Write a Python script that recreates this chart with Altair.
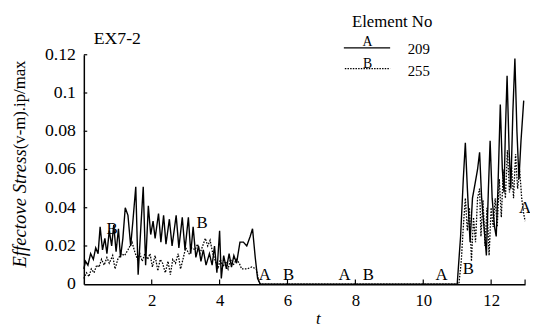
import altair as alt
import pandas as pd

# ---- data ----
a_t = [0.0, 0.05, 0.12, 0.2, 0.28, 0.35, 0.42, 0.48, 0.55, 0.62, 0.68, 0.75, 0.82, 0.88, 0.95,
       1.02, 1.08, 1.15, 1.22, 1.3, 1.38, 1.45, 1.53, 1.6, 1.68, 1.75, 1.82, 1.9, 1.97, 2.04,
       2.1, 2.2, 2.27, 2.35, 2.42, 2.52, 2.6, 2.72, 2.8, 2.9, 2.98, 3.08, 3.15, 3.22, 3.3,
       3.38, 3.45, 3.52, 3.6, 3.7, 3.78, 3.85, 3.92, 4.0, 4.05, 4.12, 4.2, 4.28, 4.35, 4.42,
       4.5, 4.6, 4.7, 4.8, 4.9, 4.97, 5.05, 5.12, 5.2,
       11.0, 11.1, 11.18, 11.24, 11.3, 11.38, 11.45, 11.52, 11.6, 11.66, 11.72, 11.8, 11.86,
       11.92, 11.97, 12.03, 12.1, 12.15, 12.2, 12.27, 12.33, 12.38, 12.42, 12.47, 12.53, 12.58,
       12.64, 12.7, 12.76, 12.82, 12.88, 12.96]
a_v = [0.008, 0.012, 0.010, 0.016, 0.013, 0.019, 0.016, 0.030, 0.018, 0.024, 0.016, 0.028, 0.020, 0.031, 0.017,
       0.029, 0.014, 0.024, 0.040, 0.036, 0.020, 0.034, 0.051, 0.005, 0.030, 0.051, 0.010, 0.041, 0.026, 0.033,
       0.024, 0.037, 0.022, 0.036, 0.021, 0.034, 0.020, 0.036, 0.019, 0.035, 0.018, 0.035, 0.016, 0.030, 0.014,
       0.020, 0.012, 0.018, 0.010, 0.016, 0.010, 0.020, 0.006, 0.028, 0.003, 0.015, 0.008, 0.016, 0.009, 0.015,
       0.011, 0.022, 0.022, 0.020, 0.025, 0.029, 0.014, 0.003, 0.0,
       0.0, 0.025, 0.055, 0.074, 0.050, 0.022, 0.045, 0.052, 0.060, 0.069, 0.045, 0.028, 0.015,
       0.050, 0.075, 0.045, 0.030, 0.025, 0.050, 0.094, 0.060, 0.048, 0.080, 0.109, 0.070, 0.050,
       0.090, 0.118, 0.080, 0.055, 0.075, 0.096]

b_t = [0.0, 0.08, 0.15, 0.22, 0.3, 0.38, 0.45, 0.52, 0.6, 0.68, 0.75, 0.85, 0.92, 1.0, 1.1,
       1.2, 1.3, 1.42, 1.5, 1.58, 1.65, 1.72, 1.8, 1.88, 1.95, 2.02, 2.1, 2.18, 2.25, 2.32,
       2.4, 2.48, 2.55, 2.62, 2.7, 2.78, 2.85, 2.92, 3.0, 3.1, 3.18, 3.28, 3.35, 3.42, 3.5,
       3.58, 3.65, 3.72, 3.8, 3.88, 3.95, 4.02, 4.1, 4.18, 4.25, 4.32, 4.4, 4.5, 4.58, 4.65,
       4.8, 4.95, 5.08, 5.15, 5.2,
       11.05, 11.12, 11.18, 11.24, 11.3, 11.36, 11.42, 11.48, 11.54, 11.6, 11.66, 11.7, 11.76,
       11.82, 11.88, 11.94, 12.0, 12.06, 12.12, 12.18, 12.24, 12.3, 12.36, 12.42, 12.48, 12.54,
       12.6, 12.66, 12.72, 12.78, 12.84, 12.9, 12.95, 13.0]
b_v = [0.003, 0.006, 0.004, 0.008, 0.006, 0.010, 0.009, 0.013, 0.010, 0.014, 0.011, 0.015, 0.008, 0.013, 0.016,
       0.015, 0.018, 0.022, 0.017, 0.013, 0.016, 0.012, 0.016, 0.013, 0.016, 0.009, 0.015, 0.007, 0.013, 0.011,
       0.006, 0.012, 0.005, 0.013, 0.011, 0.016, 0.008, 0.013, 0.019, 0.016, 0.019, 0.018, 0.021, 0.016, 0.020,
       0.024, 0.020, 0.023, 0.016, 0.012, 0.008, 0.013, 0.009, 0.012, 0.008, 0.013, 0.010, 0.013, 0.011, 0.008,
       0.008, 0.009, 0.008, 0.002, 0.0,
       0.0, 0.012, 0.030, 0.045, 0.028, 0.040, 0.012, 0.035, 0.022, 0.045, 0.050, 0.025, 0.044,
       0.020, 0.040, 0.015, 0.040, 0.030, 0.045, 0.030, 0.055, 0.035, 0.060, 0.045, 0.070, 0.048,
       0.062, 0.045, 0.068, 0.050, 0.060, 0.045, 0.038, 0.033]

lbl_t = [0.83, 3.48, 5.33, 6.03, 7.68, 8.38, 10.54, 11.33, 13.0]
lbl_v = [0.029, 0.032, 0.005, 0.005, 0.005, 0.005, 0.005, 0.008, 0.040]
lbl_text = ["B", "B", "A", "B", "A", "B", "A", "B", "A"]

x_ticks = [2, 4, 6, 8, 10, 12]
x_tick_marks = [2, 4, 6, 8, 10, 12, 13]
y_ticks = [0, 0.02, 0.04, 0.06, 0.08, 0.1, 0.12]
y_tick_labels = ["0", "0.02", "0.04", "0.06", "0.08", "0.1", "0.12"]

FONT = "Liberation Serif, DejaVu Serif, serif"
W, H = 448, 233

xs = alt.Scale(domain=[0, 13], nice=False, zero=False)
ys = alt.Scale(domain=[0, 0.12], nice=False)

dfA = pd.DataFrame({"t": a_t, "v": a_v})
dfB = pd.DataFrame({"t": b_t, "v": b_v})
dfL = pd.DataFrame({"t": lbl_t, "v": lbl_v, "s": lbl_text})
dfXT = pd.DataFrame({"t": x_tick_marks, "v0": [0.0] * len(x_tick_marks), "v1": [0.0025] * len(x_tick_marks)})
dfYT = pd.DataFrame({"v": y_ticks[1:], "t0": [0.0] * (len(y_ticks) - 1), "t1": [0.1] * (len(y_ticks) - 1)})
dfYL = pd.DataFrame({"v": y_ticks, "s": y_tick_labels})

lineB = alt.Chart(dfB).mark_line(color="black", strokeWidth=1.3, strokeDash=[1.6, 1.4]).encode(
    x=alt.X("t:Q", scale=xs, axis=alt.Axis(values=x_ticks, title=None, labelPadding=9,
                                           labelExpr="format(datum.value, 'd')")),
    y=alt.Y("v:Q", scale=ys, axis=alt.Axis(values=y_ticks, title=None, labels=False)),
)
lineA = alt.Chart(dfA).mark_line(color="black", strokeWidth=1.4).encode(
    x=alt.X("t:Q", scale=xs), y=alt.Y("v:Q", scale=ys)
)
xtickr = alt.Chart(dfXT).mark_rule(color="black", strokeWidth=1.2).encode(
    x=alt.X("t:Q", scale=xs), y=alt.Y("v0:Q", scale=ys), y2="v1:Q"
)
ytickr = alt.Chart(dfYT).mark_rule(color="black", strokeWidth=1.2).encode(
    y=alt.Y("v:Q", scale=ys), x=alt.X("t0:Q", scale=xs), x2="t1:Q"
)
ylabels = alt.Chart(dfYL).mark_text(font=FONT, fontSize=18, color="black", align="right",
                                    baseline="middle").encode(
    y=alt.Y("v:Q", scale=ys), x=alt.value(-8), text="s:N"
)
labels = alt.Chart(dfL).mark_text(font=FONT, fontSize=17, color="black", baseline="middle", align="center").encode(
    x=alt.X("t:Q", scale=xs), y=alt.Y("v:Q", scale=ys), text="s:N"
)

one = pd.DataFrame({"k": [0]})


def txt(s, x, y, size=17, align="center", baseline="middle", style="normal", angle=0):
    return alt.Chart(one).mark_text(font=FONT, fontSize=size, color="black", align=align,
                                    baseline=baseline, fontStyle=style, angle=angle).encode(
        x=alt.value(x), y=alt.value(y), text=alt.value(s))


def hrule(x1, x2, y, dash=None):
    kw = dict(color="black", strokeWidth=1.3)
    if dash:
        kw["strokeDash"] = dash
    return alt.Chart(one).mark_rule(**kw).encode(x=alt.value(x1), x2=alt.value(x2), y=alt.value(y))


annot = [
    txt("EX7-2", 10, -11, size=18, align="left", baseline="alphabetic"),
    txt("Element No", 313, -33, size=17),
    txt("A", 288, -13, size=14),
    hrule(264, 311, -7),
    txt("209", 340, -6, size=15),
    txt("B", 288, 9, size=14),
    hrule(265, 311, 14, dash=[1.5, 1.2]),
    txt("255", 340, 17, size=15),
    txt("Effectove Stress", -65, 96, size=19, align="right", style="italic", angle=270),
    txt("(v-m).ip/max", -65, 96, size=17, align="left", angle=270),
    txt("t", 238, 268, size=17, style="italic"),
]

chart = alt.layer(lineB, lineA, xtickr, ytickr, ylabels, labels, *annot).properties(
    width=W, height=H, autosize="none",
    padding={"left": 77, "top": 45, "right": 5, "bottom": 44},
).configure_view(stroke=None).configure_axis(
    domainColor="black", domainWidth=1.5, ticks=False, grid=False,
    labelFont=FONT, labelFontSize=17, labelColor="black",
)

chart.save("out.html", embed_options={"renderer": "svg", "actions": False})
